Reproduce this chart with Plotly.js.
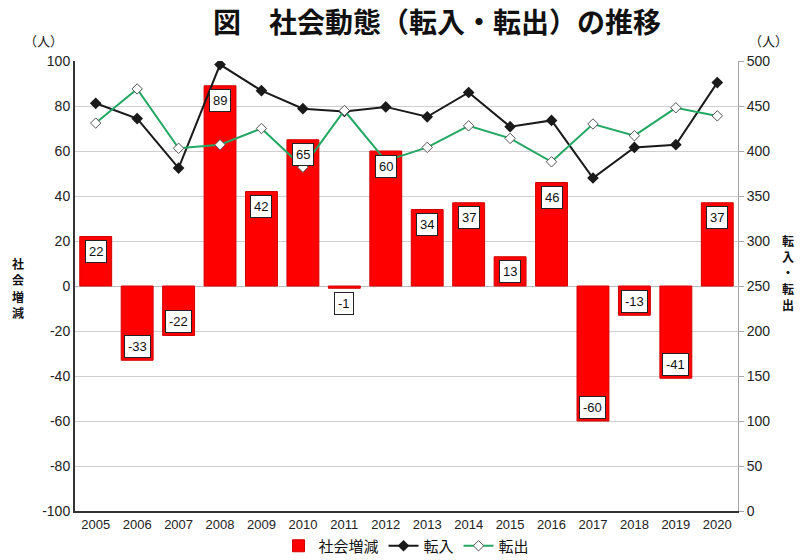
<!DOCTYPE html>
<html>
<head>
<meta charset="utf-8">
<script src="https://cdn.plot.ly/plotly-3.0.1.min.js"></script>
<style>html,body{margin:0;padding:0;background:#fff;}#chart{width:801px;height:560px;}</style>
</head>
<body>
<div id="chart"></div>
<script>
const years = ['2005','2006','2007','2008','2009','2010','2011','2012','2013','2014','2015','2016','2017','2018','2019','2020'];
const netChange = [22,-33,-22,89,42,65,-1,60,34,37,13,46,-60,-13,-41,37];
const moveIn = [453,436,381,496,467,447,444,449,438,465,427,434,370,404,407,476];
const moveOut = [431,469,403,407,425,382,445,389,404,428,414,388,430,417,448,439];
const leftTicks = [-100,-80,-60,-40,-20,0,20,40,60,80,100];
const rightTicks = [0,50,100,150,200,250,300,350,400,450,500];
const leftTitle = '社会増減';
const rightTitle = '転入・転出';

const CJK = '"Noto Sans CJK JP", sans-serif';
const NUM = '"Liberation Sans Narrow", "Arial Narrow", "Liberation Sans", Arial, sans-serif';

const xi = years.map((_, i) => i);
const xRange = [-0.5, years.length - 0.5];

const traces = [
  {type:'bar', name:'社会増減', x:xi, y:netChange, yaxis:'y',
   marker:{color:'#ff0000', line:{color:'#d40000', width:1}}},
  {type:'scatter', mode:'lines+markers', name:'転入', x:xi, y:moveIn, yaxis:'y2',
   line:{color:'#1a1a1a', width:2}, marker:{symbol:'diamond', size:9, color:'#1a1a1a'}},
  {type:'scatter', mode:'lines+markers', name:'転出', x:xi, y:moveOut, yaxis:'y2',
   line:{color:'#22a862', width:2}, marker:{symbol:'diamond', size:8, color:'#ffffff', line:{color:'#555', width:1}}}
];

const barAnn = xi.map(i => {
  const v = netChange[i];
  const short = Math.abs(v) < 5;
  let shift;
  if (v >= 0) shift = -15;
  else shift = short ? -15 : 14;
  return {x: i, y: v, xref:'x', yref:'y', text: String(v), showarrow:false,
    yshift: shift, font:{family:NUM, size:13, color:'#111'},
    bgcolor:'#ffffff', bordercolor:'#222', borderwidth:1, borderpad:3};
});

function stacked(str, xPx, yTopPx, step) {
  return Array.from(str).map((ch, k) => ({
    text: ch, xref:'paper', yref:'paper', x: xPx, y: (511 - (yTopPx + k * step)) / 450,
    xanchor:'center', yanchor:'middle', showarrow:false,
    font:{family:CJK, size:12, color:'#111', weight:'bold'}
  }));
}

const boundaries = xi.slice(1).map(i => i - 0.5);

const layout = {
  width:801, height:560,
  margin:{l:75, r:63, t:61, b:49},
  paper_bgcolor:'#fff', plot_bgcolor:'#fff',
  title:{text:'図　社会動態（転入・転出）の推移', x:0.546, xref:'paper', xanchor:'center',
         y:1-23/560, yanchor:'middle', font:{family:CJK, size:28, color:'#111', weight:'bold'}},
  bargap:0.23,
  showlegend:true,
  legend:{orientation:'h', x:0.5, xanchor:'center', yref:'container', y:(560-546)/560, yanchor:'middle',
          font:{family:CJK, size:15, color:'#111'}, traceorder:'normal'},
  xaxis:{range:xRange, tickvals:xi, ticktext:years, showgrid:false, zeroline:false, ticks:'',
         showline:true, linecolor:'#333', linewidth:2, automargin:false,
         tickfont:{family:NUM, size:13, color:'#222'}},
  xaxis2:{overlaying:'x', anchor:'free', position:0.5, range:xRange,
          tickvals:boundaries, ticks:'outside', ticklen:4, tickcolor:'#999', tickwidth:1,
          showticklabels:false, showgrid:false, showline:false, zeroline:false},
  xaxis3:{overlaying:'x', side:'top', anchor:'y', range:xRange,
          tickvals:boundaries, ticks:'outside', ticklen:4, tickcolor:'#999', tickwidth:1,
          showticklabels:false, showgrid:false, showline:false, zeroline:false},
  yaxis:{range:[-100,100], tickvals:leftTicks, ticktext:leftTicks.map(String), gridcolor:'#cfcfcf', gridwidth:1,
         zeroline:true, zerolinecolor:'#bdbdbd', zerolinewidth:1, automargin:false,
         showline:true, linecolor:'#333', linewidth:2, ticks:'',
         tickfont:{family:NUM, size:14, color:'#222'}},
  yaxis2:{range:[0,500], tickvals:rightTicks, ticktext:rightTicks.map(String), overlaying:'y', side:'right',
          showgrid:false, zeroline:false,
          showline:true, linecolor:'#a6a6a6', linewidth:1, ticks:'outside', ticklen:5, tickcolor:'#a6a6a6',
          automargin:false, tickfont:{family:NUM, size:14, color:'#222'}},
  annotations: barAnn.concat([
    {text:'（人）', xref:'paper', yref:'paper', x:-10/663, y:1+21/450, xanchor:'right', yanchor:'middle',
     showarrow:false, font:{family:CJK, size:13, color:'#222'}},
    {text:'（人）', xref:'paper', yref:'paper', x:1+30/663, y:1+21/450, xanchor:'center', yanchor:'middle',
     showarrow:false, font:{family:CJK, size:13, color:'#222'}}
  ], stacked(leftTitle, -57/663, 263, 16.5), stacked(rightTitle, 1+50/663, 240, 16))
};

Plotly.newPlot('chart', traces, layout, {displayModeBar:false, staticPlot:true});
</script>
</body>
</html>
